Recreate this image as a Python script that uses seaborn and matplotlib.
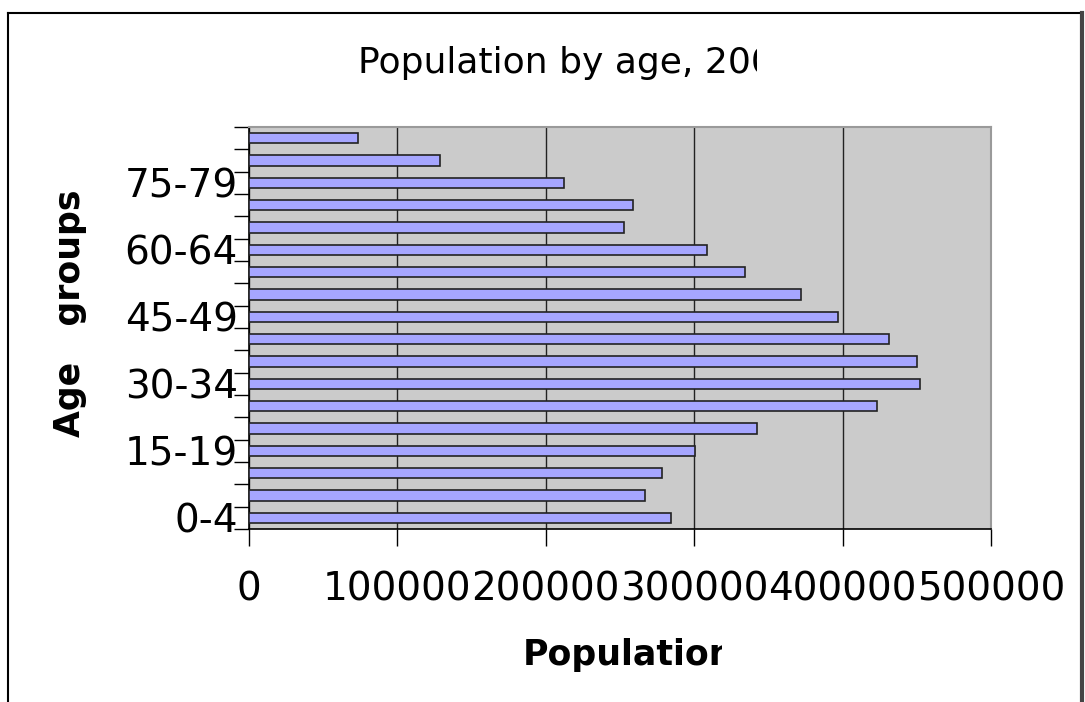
import matplotlib
matplotlib.use("Agg")
import matplotlib.pyplot as plt
import seaborn as sns
import pandas as pd
from matplotlib.transforms import Bbox, TransformedBbox
from matplotlib.lines import Line2D

# ---- data ----
age_groups = ["0-4", "5-9", "10-14", "15-19", "20-24", "25-29", "30-34", "35-39",
              "40-44", "45-49", "50-54", "55-59", "60-64", "65-69", "70-74",
              "75-79", "80-84", "85+"]
population = [284600, 266800, 278100, 300500, 342500, 423000, 452000, 450300,
              431000, 397100, 371800, 334200, 308800, 252500, 259000,
              212300, 128500, 73650]
shown_labels = ["0-4", "15-19", "30-34", "45-49", "60-64", "75-79"]
x_ticks = [0, 100000, 200000, 300000, 400000, 500000]
x_tick_labels = ["0", "100000", "200000", "300000", "400000", "500000"]

title_text = "Population by age, 2006"
x_label = "Population"
y_label = "Age   groups"

df = pd.DataFrame({"age": age_groups, "pop": population})
order = age_groups[::-1]  # 85+ on top

W, H = 1085, 702
fig = plt.figure(figsize=(W / 100, H / 100), dpi=100)
fig.patch.set_facecolor("white")
ax = fig.add_axes([249 / W, 1 - 529 / H, (991 - 249) / W, (529 - 127) / H])
ax.set_facecolor("#CBCBCB")

sns.barplot(data=df, x="pop", y="age", order=order, orient="h",
            color="#A6A6FF", saturation=1, width=0.46,
            edgecolor="#222222", linewidth=1.2, ax=ax, zorder=3)

n = len(age_groups)
ax.set_ylim(n - 0.5, -0.5)
ax.set_xlim(0, 500000)

# x axis
ax.set_xticks(x_ticks)
ax.set_xticklabels(x_tick_labels, fontsize=28)
ax.tick_params(axis="x", direction="out", length=12, width=1, color="black", pad=18)
ax.xaxis.grid(True, color="#222222", linewidth=1, zorder=1)
ax.yaxis.grid(False)
ax.set_axisbelow(True)

# y axis: ticks at boundaries, labels at centres
boundaries = [i - 0.5 for i in range(n + 1)]
ax.set_yticks(boundaries)
ax.set_yticklabels([""] * len(boundaries))
centres = [order.index(lbl) for lbl in shown_labels]
ax.set_yticks(centres, minor=True)
ax.set_yticklabels(shown_labels, minor=True, fontsize=28)
ax.tick_params(axis="y", which="major", direction="out", length=11, width=1, color="black")
ax.tick_params(axis="y", which="minor", length=0, pad=8)

ax.set_xlabel("")
ax.set_ylabel("")

for side in ("left", "bottom"):
    ax.spines[side].set_color("black")
    ax.spines[side].set_linewidth(1.2)
for side in ("top", "right"):
    ax.spines[side].set_color("#9a9a9a")
    ax.spines[side].set_linewidth(1.5)
    ax.spines[side].set_visible(True)

# title (clipped like the reference)
t = fig.text(358 / W, 1 - 73 / H, title_text, fontsize=26, ha="left", va="baseline")
t.set_clip_box(TransformedBbox(Bbox([[0, 0], [757 / W, 1]]), fig.transFigure))
t.set_clip_on(True)

# x label (clipped)
xl = fig.text(523 / W, 1 - 665 / H, x_label, fontsize=25, fontweight="bold",
              ha="left", va="baseline")
xl.set_clip_box(TransformedBbox(Bbox([[0, 0], [722 / W, 1]]), fig.transFigure))
xl.set_clip_on(True)

# y label
fig.text(70 / W, 1 - 313 / H, y_label, fontsize=25, fontweight="bold",
         rotation=90, ha="center", va="center")

# outer frame
fig.add_artist(Line2D([8 / W, 8 / W], [0, 1 - 13 / H], transform=fig.transFigure,
                      color="black", linewidth=1.5))
fig.add_artist(Line2D([8 / W, 1082 / W], [1 - 13 / H, 1 - 13 / H], transform=fig.transFigure,
                      color="black", linewidth=1.5))
fig.add_artist(Line2D([1082 / W, 1082 / W], [0, 1 - 13 / H], transform=fig.transFigure,
                      color="#444444", linewidth=3))

fig.savefig("out.png", dpi=100)
